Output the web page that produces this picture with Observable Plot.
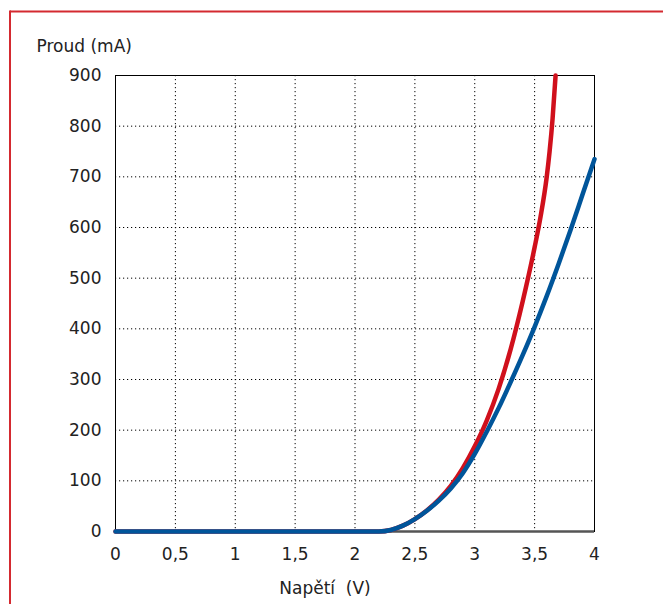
<!DOCTYPE html>
<html>
<head>
<meta charset="utf-8">
<script src="https://cdn.jsdelivr.net/npm/d3@7"></script>
<script src="https://cdn.jsdelivr.net/npm/@observablehq/plot@0.6"></script>
<style>
  html, body { margin: 0; padding: 0; background: white; }
</style>
</head>
<body>
<div id="chart"></div>
<script>
// Voltage (V) and current (mA)
const redV = [0, 2.2, 2.3, 2.4, 2.5, 2.6, 2.7, 2.8, 2.9, 3.0, 3.1, 3.2, 3.3, 3.4, 3.5, 3.55, 3.6, 3.625, 3.65, 3.675];
const redI = [0, 0, 3, 11.5, 24.5, 41.5, 63, 90, 125, 168, 219, 282, 360, 454, 561, 622, 698, 750, 815, 900];
const blueV = [0, 2.2, 2.3, 2.4, 2.5, 2.6, 2.7, 2.8, 2.9, 3.0, 3.1, 3.2, 3.3, 3.4, 3.5, 3.6, 3.7, 3.8, 3.9, 4.0];
const blueI = [0, 0, 3, 11.5, 24.5, 41, 61, 85, 115, 153, 197, 244, 295, 348, 404, 464, 528, 595, 665, 735];

const xTicks = [0, 0.5, 1, 1.5, 2, 2.5, 3, 3.5, 4];
const yTicks = [0, 100, 200, 300, 400, 500, 600, 700, 800, 900];
const xTitle = "Napětí\u00a0\u00a0(V)";
const yTitle = "Proud (mA)";

const red = redV.map((v, i) => ({v, i: redI[i]}));
const blue = blueV.map((v, i) => ({v, i: blueI[i]}));
const fmt = d => String(d).replace(".", ",");

const chart = Plot.plot({
  width: 663,
  height: 604,
  marginLeft: 115,
  marginRight: 69,
  marginTop: 75,
  marginBottom: 73,
  style: {fontFamily: "'DejaVu Sans', sans-serif", fontSize: "17px", background: "white", color: "#222"},
  x: {domain: [0, 4], label: null},
  y: {domain: [0, 900], label: null},
  marks: [
    Plot.gridX(xTicks, {stroke: "black", strokeOpacity: 1, strokeWidth: 1, strokeDasharray: "1.2,2.8"}),
    Plot.gridY(yTicks, {stroke: "black", strokeOpacity: 1, strokeWidth: 1, strokeDasharray: "1.2,2.8"}),
    Plot.frame({stroke: "black", strokeWidth: 1}),
    Plot.axisX(xTicks, {tickSize: 0, tickPadding: 16, tickFormat: fmt, label: null}),
    Plot.axisY(yTicks, {tickSize: 0, tickPadding: 14, label: null}),
    Plot.ruleY([0], {stroke: "#555", strokeWidth: 2.5}),
    Plot.line(red, {x: "v", y: "i", stroke: "#d0101c", strokeWidth: 4.5, curve: "monotone-x"}),
    Plot.line(blue, {x: "v", y: "i", stroke: "#00559a", strokeWidth: 4.5, curve: "monotone-x"}),
    Plot.text([yTitle], {frameAnchor: "top-left", dx: -79, dy: -29, textAnchor: "start", lineAnchor: "middle", fontSize: 17}),
    Plot.text([xTitle], {frameAnchor: "bottom", dx: -30, dy: 57, lineAnchor: "middle", fontSize: 17})
  ]
});

document.getElementById("chart").appendChild(chart);

// Red page border (left and top edges)
const svg = d3.select(chart);
svg.append("line").attr("x1", 10).attr("y1", 11.5).attr("x2", 663).attr("y2", 11.5)
  .attr("stroke", "#d42a30").attr("stroke-width", 2);
svg.append("line").attr("x1", 10).attr("y1", 10.5).attr("x2", 10).attr("y2", 604)
  .attr("stroke", "#d42a30").attr("stroke-width", 2);
</script>
</body>
</html>
